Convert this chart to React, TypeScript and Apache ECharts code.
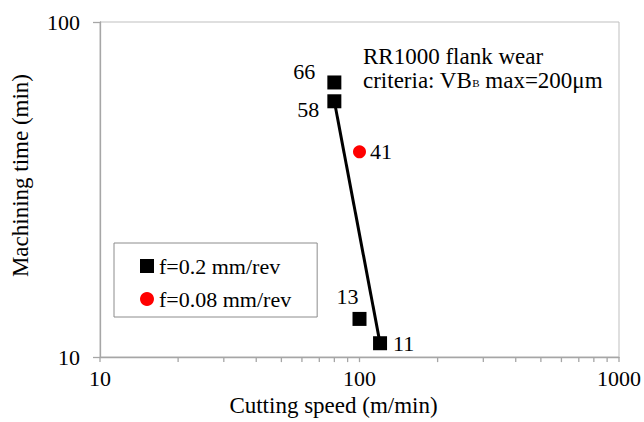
import React, { useEffect, useRef } from "react";
import * as echarts from "echarts";

// ---- data ----
const xMin = 10;
const xMax = 1000;
const yMin = 10;
const yMax = 100;
const xTickValues = [10, 20, 30, 40, 50, 60, 70, 80, 90, 100, 200, 300, 400, 500, 600, 700, 800, 900, 1000];
const seriesAName = "f=0.2 mm/rev";
const seriesASpeed = [80, 80, 100, 120];
const seriesATime = [66, 58, 13, 11];
const seriesBName = "f=0.08 mm/rev";
const seriesBSpeed = [100];
const seriesBTime = [41];
const trendSpeed = [80, 120];
const trendTime = [58, 11];
const annotationLine1 = "RR1000 flank wear";
const xAxisTitle = "Cutting speed (m/min)";
const yAxisTitle = "Machining time (min)";

const FONT = "Liberation Serif";

// label placement per point of series A (style only)
const labelStylesA = [
  { position: "left", distance: 12, offset: [0, -11] },
  { position: "left", distance: 8, offset: [0, 8] },
  { position: "top", distance: 4, offset: [-12, 0] },
  { position: "right", distance: 6, offset: [0, 0] },
];

export default function App() {
  const ref = useRef<HTMLDivElement>(null);
  useEffect(() => {
    if (!ref.current) return;
    const chart = echarts.init(ref.current, null, { renderer: "svg" });
    const axisColor = "#a6a6a6";
    const textColor = "#000000";
    const serifRich = { t: { fontFamily: FONT, fontSize: 22, color: textColor, fill: textColor } };
    const baseLabel = { fontFamily: FONT, fontSize: 22, color: textColor, rich: serifRich };
    const wrap = (s: string | number) => `{t|${s}}`;
    const option: any = {
      animation: false,
      backgroundColor: "#ffffff",
      textStyle: { fontFamily: FONT },
      grid: {
        left: 100,
        right: 24,
        top: 22,
        bottom: 61,
        show: true,
        borderColor: "#bfbfbf",
        borderWidth: 1,
        backgroundColor: "transparent",
      },
      legend: {
        data: [
          { name: seriesAName, icon: "rect" },
          { name: seriesBName, icon: "circle" },
        ],
        orient: "vertical",
        left: 114,
        top: 243,
        itemWidth: 14,
        itemHeight: 14,
        itemGap: 11,
        padding: [12, 26, 7, 26],
        borderColor: "#8c8c8c",
        borderWidth: 1,
        backgroundColor: "#ffffff",
        selectedMode: false,
        formatter: (name: string) => wrap(name),
        textStyle: { ...baseLabel },
      },
      xAxis: {
        type: "log",
        logBase: 10,
        min: xMin,
        max: xMax,
        name: xAxisTitle,
        nameLocation: "middle",
        nameGap: 33,
        nameTextStyle: { fontFamily: FONT, fontSize: 23, color: textColor, padding: [0, 52, 0, 0] },
        axisLine: { show: true, lineStyle: { color: axisColor, width: 1.3 } },
        axisTick: { show: false },
        splitLine: { show: false },
        minorTick: { show: false },
        axisLabel: { ...baseLabel, margin: 10, formatter: (v: number) => wrap(v) },
      },
      yAxis: {
        type: "log",
        logBase: 10,
        min: yMin,
        max: yMax,
        name: yAxisTitle,
        nameLocation: "middle",
        nameGap: 68,
        nameTextStyle: { fontFamily: FONT, fontSize: 23, color: textColor, padding: [0, 0, 0, 28] },
        axisLine: { show: true, lineStyle: { color: axisColor, width: 1.3 } },
        axisTick: { show: true, length: 7, inside: false, lineStyle: { color: axisColor, width: 1.3 } },
        splitLine: { show: false },
        axisLabel: { ...baseLabel, margin: 20, formatter: (v: number) => wrap(v) },
      },
      series: [
        {
          name: "ticks",
          type: "scatter",
          data: xTickValues.map((v) => [v, yMin]),
          symbol: "rect",
          symbolSize: [1.3, 5],
          symbolOffset: [0, 2.5],
          clip: false,
          silent: true,
          z: 1,
          itemStyle: { color: axisColor, opacity: 1 },
        },
        {
          name: "trend",
          type: "line",
          data: trendSpeed.map((v, i) => [v, trendTime[i]]),
          showSymbol: false,
          symbol: "none",
          lineStyle: { color: "#000000", width: 3 },
          silent: true,
          z: 2,
        },
        {
          name: seriesAName,
          type: "scatter",
          symbol: "rect",
          symbolSize: 14,
          itemStyle: { color: "#000000", opacity: 1 },
          label: { show: true, ...baseLabel },
          z: 3,
          data: seriesASpeed.map((v, i) => ({
            value: [v, seriesATime[i]],
            label: {
              show: true,
              formatter: wrap(seriesATime[i]),
              ...baseLabel,
              ...labelStylesA[i],
            },
          })),
        },
        {
          name: seriesBName,
          type: "scatter",
          symbol: "circle",
          symbolSize: 13,
          itemStyle: { color: "#ff0000", opacity: 1 },
          label: { show: true, ...baseLabel },
          z: 3,
          data: seriesBSpeed.map((v, i) => ({
            value: [v, seriesBTime[i]],
            label: {
              show: true,
              formatter: wrap(seriesBTime[i]),
              position: "right",
              distance: 4,
              ...baseLabel,
            },
          })),
        },
      ],
      graphic: [
        {
          type: "text",
          left: 363,
          top: 45,
          style: {
            text: annotationLine1,
            fontFamily: FONT,
            fontSize: 23,
            fill: textColor,
          },
        },
        {
          type: "text",
          left: 363,
          top: 69,
          style: {
            text: "{n|criteria: VB}{s|B}{n| max=200μm}",
            fill: textColor,
            rich: {
              n: { fontFamily: FONT, fontSize: 23, fill: textColor, lineHeight: 24 },
              s: { fontFamily: FONT, fontSize: 11, fill: textColor, verticalAlign: "bottom", lineHeight: 11, padding: [0, 0, 4, 0] },
            },
          },
        },
      ],
    };
    chart.setOption(option);
    return () => chart.dispose();
  }, []);
  return <div ref={ref} style={{ position: "fixed", left: 0, top: 0, width: 644, height: 422 }} />;
}
